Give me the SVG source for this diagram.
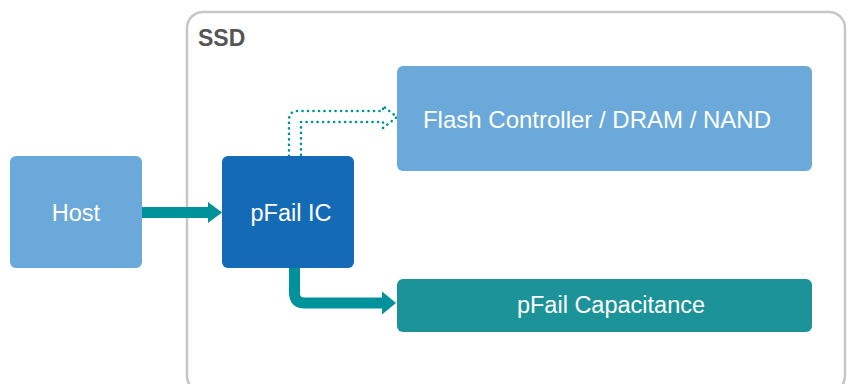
<svg xmlns="http://www.w3.org/2000/svg" width="847" height="384" viewBox="0 0 847 384">
<style>
.lbl{font-family:"Liberation Sans",Arial,sans-serif;fill:#ffffff;text-anchor:middle;font-size:23.5px}
.title{font-family:"Liberation Sans",Arial,sans-serif;fill:#555555;font-weight:bold;font-size:23px}
</style>
<defs></defs>
<rect width="847" height="384" fill="#ffffff"/>
<g id="ssd">
<rect x="187" y="12" width="658" height="380" rx="16" fill="none" stroke="#c6c6c8" stroke-width="2.5"/>
<text class="title" x="198" y="46">SSD</text>
</g>
<g id="connectors">
<path d="M142,207 H208 V202 L222,212.5 L208,223 V218 H142 Z" fill="#00929b"/>
<path d="M294.5,268 V293 Q294.5,303 304.5,303 H382" fill="none" stroke="#00929b" stroke-width="11"/>
<path d="M382,291.5 L396,303 L382,314.5 Z" fill="#00929b"/>
<path d="M289,156 V120 Q289,111 298,111 H383 V106 L397,117 L383,128 V122 H301 V156" fill="none" stroke="#00929b" stroke-width="2.6" stroke-dasharray="0.1 5.4" stroke-linecap="round"/>
</g>
<g id="host">
<rect x="10" y="156" width="132" height="112" rx="6" fill="#6aa9da"/>
<text class="lbl" x="76" y="221">Host</text>
</g>
<g id="pfail-ic">
<rect x="222" y="156" width="132" height="112" rx="6" fill="#136bb5"/>
<text class="lbl" x="291" y="221">pFail IC</text>
</g>
<g id="flash">
<rect x="397" y="66" width="415" height="105" rx="6" fill="#6aa9da"/>
<text class="lbl" x="597" y="128" style="font-size:24px">Flash Controller / DRAM / NAND</text>
</g>
<g id="capacitance">
<rect x="397" y="279" width="415" height="53" rx="6" fill="#1b9399"/>
<text class="lbl" x="611" y="313">pFail Capacitance</text>
</g>
</svg>
